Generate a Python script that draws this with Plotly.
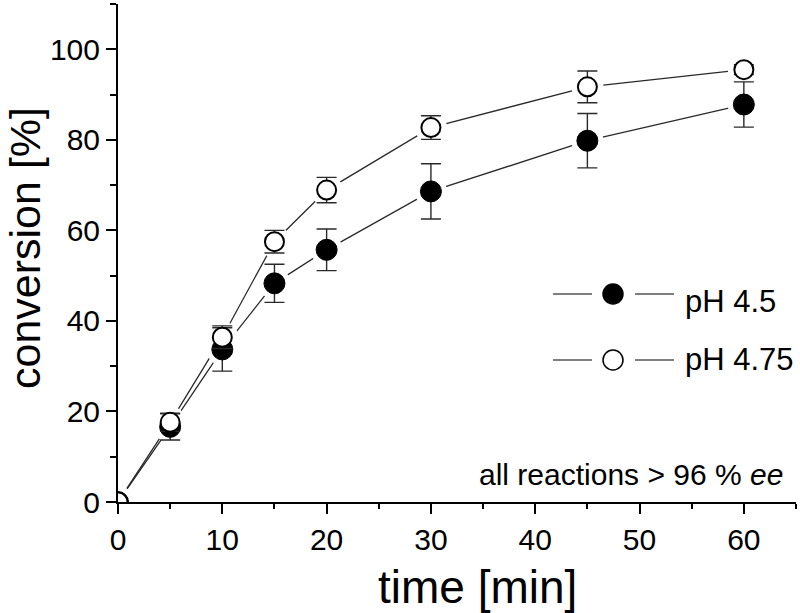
import plotly.graph_objects as go

# ---- data ----
time_min = [0, 5, 10, 15, 20, 30, 45, 60]
conv_ph45 = [0, 16.6, 33.7, 48.3, 55.7, 68.6, 79.8, 87.8]
err_ph45 = [0, 2.9, 4.8, 4.2, 4.6, 6.1, 6.0, 5.0]
conv_ph475 = [0, 17.6, 36.4, 57.5, 68.9, 82.7, 91.7, 95.5]
err_ph475 = [0, 2.0, 2.5, 2.5, 2.8, 2.6, 3.5, 1.1]
series_names = ["pH 4.5", "pH 4.75"]
x_ticks = [0, 10, 20, 30, 40, 50, 60]
y_ticks = [0, 20, 40, 60, 80, 100]

FONT = "Liberation Sans, Arial, Helvetica, sans-serif"
LINE_C = "#2a2a2a"

# plot-area geometry in pixels
L, R, T, B = 118, 796, 4, 502
W, H = 800, 613


def px_x(px):
    return (px - L) / (R - L)


def px_y(py):
    return (B - py) / (B - T)


fig = go.Figure()

# connecting lines
for y in (conv_ph45, conv_ph475):
    fig.add_trace(go.Scatter(x=time_min, y=y, mode="lines",
                             line=dict(color=LINE_C, width=1.3),
                             showlegend=False, hoverinfo="skip"))

# white halos to create gaps between lines and markers
for y in (conv_ph45, conv_ph475):
    fig.add_trace(go.Scatter(x=time_min, y=y, mode="markers",
                             marker=dict(size=32, color="white", line=dict(width=0)),
                             showlegend=False, hoverinfo="skip"))

# filled circles (pH 4.5)
fig.add_trace(go.Scatter(
    x=time_min, y=conv_ph45, mode="markers", name=series_names[0],
    marker=dict(size=21, color="black", line=dict(color="black", width=1)),
    error_y=dict(type="data", array=err_ph45, visible=True,
                 color=LINE_C, thickness=1.4, width=10),
    showlegend=False))

# open circles (pH 4.75)
fig.add_trace(go.Scatter(
    x=time_min, y=conv_ph475, mode="markers", name=series_names[1],
    marker=dict(size=19, color="white", line=dict(color="black", width=2)),
    error_y=dict(type="data", array=err_ph475, visible=True,
                 color=LINE_C, thickness=1.4, width=10),
    showlegend=False))

axis_common = dict(
    showgrid=False, zeroline=False, showline=True, linecolor="black",
    linewidth=2, ticks="outside", tickcolor="black", tickwidth=1.6,
    ticklen=10, tickfont=dict(family=FONT, size=30, color="black"),
    automargin=False,
)

fig.update_xaxes(range=[0, 65], tickvals=x_ticks, ticktext=[str(v) for v in x_ticks],
                 minor=dict(dtick=5, tick0=0, ticks="outside", ticklen=5,
                            tickcolor="black", tickwidth=1.6),
                 **axis_common)
fig.update_yaxes(range=[0, 110], tickvals=y_ticks, ticktext=[str(v) for v in y_ticks],
                 minor=dict(dtick=10, tick0=0, ticks="outside", ticklen=6,
                            tickcolor="black", tickwidth=1.6),
                 **axis_common)

annotations = [
    dict(text="time [min]", x=px_x(477), y=px_y(587), xref="paper", yref="paper",
         xanchor="center", yanchor="middle", showarrow=False,
         font=dict(family=FONT, size=46, color="black")),
    dict(text="conversion [%]", x=px_x(25), y=px_y(248), xref="paper", yref="paper",
         xanchor="center", yanchor="middle", showarrow=False, textangle=-90,
         font=dict(family=FONT, size=43, color="black")),
    dict(text="all reactions > 96 % <i>ee</i>", x=px_x(785), y=px_y(474),
         xref="paper", yref="paper", xanchor="right", yanchor="middle",
         showarrow=False, font=dict(family=FONT, size=30, color="black")),
    dict(text=series_names[0], x=px_x(683), y=px_y(301), xref="paper", yref="paper",
         xanchor="left", yanchor="middle", showarrow=False,
         font=dict(family=FONT, size=31, color="black")),
    dict(text=series_names[1], x=px_x(683), y=px_y(359), xref="paper", yref="paper",
         xanchor="left", yanchor="middle", showarrow=False,
         font=dict(family=FONT, size=31, color="black")),
]

shapes = []
for row_y, filled in ((294, True), (360, False)):
    for xa, xb in ((553, 592), (635, 674)):
        shapes.append(dict(type="line", xref="paper", yref="paper",
                           x0=px_x(xa), x1=px_x(xb), y0=px_y(row_y), y1=px_y(row_y),
                           line=dict(color="#555555", width=1.5)))
    shapes.append(dict(type="circle", xref="paper", yref="paper",
                       xsizemode="pixel", ysizemode="pixel",
                       xanchor=px_x(613), yanchor=px_y(row_y),
                       x0=-10, x1=10, y0=-10, y1=10,
                       fillcolor="black" if filled else "white",
                       line=dict(color="black", width=1.5)))

fig.update_layout(
    width=W, height=H,
    margin=dict(l=L, r=W - R, t=T, b=H - B, autoexpand=False),
    paper_bgcolor="white", plot_bgcolor="white",
    showlegend=False,
    annotations=annotations, shapes=shapes,
    font=dict(family=FONT, color="black"),
)

fig.write_html("out.html", config={"displayModeBar": False},
               post_script="document.body.style.margin='0';document.body.style.padding='0';")
